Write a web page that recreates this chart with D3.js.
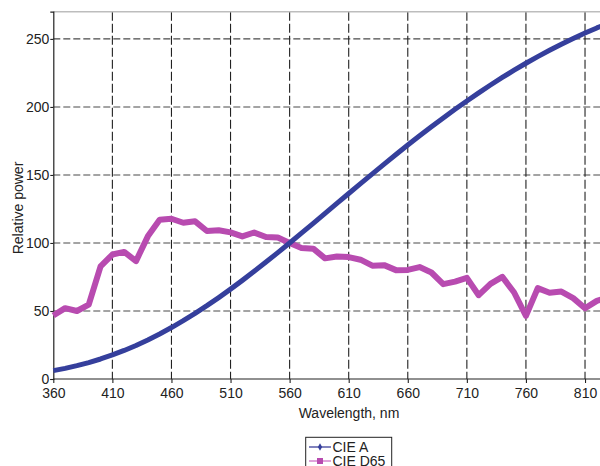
<!DOCTYPE html>
<html>
<head>
<meta charset="utf-8">
<script src="https://cdn.jsdelivr.net/npm/d3@7"></script>
<style>
  html, body { margin: 0; padding: 0; background: #fff; }
  svg { display: block; font-family: "Liberation Sans", Arial, Helvetica, sans-serif; }
</style>
</head>
<body>
<svg id="chart" width="600" height="466"></svg>
<script>
// Wavelengths sampled every 10 nm
const wavelengths = [360,370,380,390,400,410,420,430,440,450,460,470,480,490,500,510,520,530,540,550,
  560,570,580,590,600,610,620,630,640,650,660,670,680,690,700,710,720,730,740,750,760,770,780,790,800,810,820,830];

// CIE standard illuminant A (relative spectral power, 100 at 560 nm)
const cieA = [6.14,7.82,9.80,12.09,14.71,17.68,21.00,24.67,28.70,33.09,37.81,42.87,48.24,53.91,59.86,66.06,
  72.50,79.13,85.95,92.91,100.00,107.18,114.44,121.73,129.04,136.35,143.62,150.84,157.98,165.03,171.96,178.77,
  185.43,191.93,198.26,204.41,210.37,216.12,221.67,227.00,232.12,237.01,241.68,246.12,250.33,254.31,258.07,261.60];

// CIE standard illuminant D65
const cieD65 = [46.64,52.09,49.98,54.65,82.75,91.49,93.43,86.68,104.87,117.01,117.81,114.86,115.92,108.81,109.35,107.80,
  104.79,107.69,104.41,104.05,100.00,96.33,95.79,88.69,90.01,89.60,87.70,83.29,83.70,80.03,80.21,82.28,
  78.28,69.72,71.61,74.35,61.60,69.89,75.09,63.59,46.42,66.81,63.38,64.30,59.45,51.96,57.44,60.31];

const xTicks = [360,410,460,510,560,610,660,710,760,810];
const yTicks = [0,50,100,150,200,250];

const seriesNames = ["CIE A", "CIE D65"];
const seriesColors = ["#353f9c", "#b84bb0"];
const legendLineColors = ["#3c3f9a", "#cf72c8"];
const seriesWidths = [5, 6];

const svg = d3.select("#chart");
const plotLeft = 53.3, plotTop = 11.7, plotBottom = 379;

const x = d3.scaleLinear().domain([360, 830]).range([plotLeft, plotLeft + 470 * 1.1816]);
const y = d3.scaleLinear().domain([0, 270]).range([plotBottom, plotTop]);

// Grid
const grid = svg.append("g");
grid.selectAll("line.h").data(yTicks.filter(d => d > 0)).join("line")
  .attr("x1", plotLeft).attr("x2", x(830))
  .attr("y1", d => y(d)).attr("y2", d => y(d))
  .attr("stroke", "#4a4a4a").attr("stroke-width", 1.1).attr("stroke-dasharray", "7,3");
grid.selectAll("line.v").data(xTicks.filter(d => d > 360)).join("line")
  .attr("x1", d => x(d)).attr("x2", d => x(d))
  .attr("y1", plotTop).attr("y2", plotBottom)
  .attr("stroke", "#222").attr("stroke-width", 1.1).attr("stroke-dasharray", "9,3");

// Top frame
svg.append("line").attr("x1", plotLeft).attr("x2", x(830)).attr("y1", plotTop).attr("y2", plotTop)
  .attr("stroke", "#bdbdbd").attr("stroke-width", 1.5);

// Axes
const xAxis = svg.append("g").attr("transform", `translate(0,${plotBottom})`)
  .call(d3.axisBottom(x).tickValues(xTicks).tickSize(4).tickPadding(5));
const yAxis = svg.append("g").attr("transform", `translate(${plotLeft},0)`)
  .call(d3.axisLeft(y).tickValues(yTicks).tickSize(3).tickPadding(1));
[xAxis, yAxis].forEach(a => {
  a.select(".domain").attr("stroke", "#222").attr("stroke-width", 1.2);
  a.selectAll(".tick line").attr("stroke", "#222").attr("stroke-width", 1.1);
  a.selectAll("text").attr("fill", "#222").style("font-size", "14px")
    .style("font-family", "'Liberation Sans', Arial, sans-serif");
});
xAxis.select(".domain").attr("d", `M${plotLeft},0H${x(830)}`);
yAxis.selectAll(".tick text").attr("dy", "0.3em");

// Axis titles
svg.append("text").attr("x", 349).attr("y", 418).attr("text-anchor", "middle")
  .attr("fill", "#222").style("font-size", "14px").text("Wavelength, nm");
svg.append("text").attr("transform", "translate(23,208) rotate(-90)").attr("text-anchor", "middle")
  .attr("fill", "#222").style("font-size", "14px").text("Relative power");

// Series lines
const line = d3.line().x((d, i) => x(wavelengths[i])).y(d => y(d));
svg.append("path").datum(cieD65).attr("d", line).attr("fill", "none")
  .attr("stroke", seriesColors[1]).attr("stroke-width", seriesWidths[1]).attr("stroke-linejoin", "round");
svg.append("path").datum(cieA).attr("d", line).attr("fill", "none")
  .attr("stroke", seriesColors[0]).attr("stroke-width", seriesWidths[0]).attr("stroke-linejoin", "round");

// Legend
const lg = svg.append("g");
lg.append("rect").attr("x", 305.7).attr("y", 437.3).attr("width", 86).attr("height", 40)
  .attr("fill", "#fff").attr("stroke", "#222").attr("stroke-width", 1);
seriesNames.forEach((name, i) => {
  const yy = 447 + i * 14;
  lg.append("line").attr("x1", 309).attr("x2", 331).attr("y1", yy).attr("y2", yy)
    .attr("stroke", legendLineColors[i]).attr("stroke-width", 1.3);
  if (i === 0) {
    lg.append("path").attr("d", d3.symbol(d3.symbolDiamond, 16)()).attr("transform", `translate(320,${yy})`)
      .attr("fill", seriesColors[i]);
  } else {
    lg.append("rect").attr("x", 317).attr("y", yy - 3).attr("width", 6).attr("height", 6)
      .attr("fill", seriesColors[i]);
  }
  lg.append("text").attr("x", 332.5).attr("y", yy + 5).attr("fill", "#222")
    .style("font-size", "14px").text(name);
});
</script>
</body>
</html>
